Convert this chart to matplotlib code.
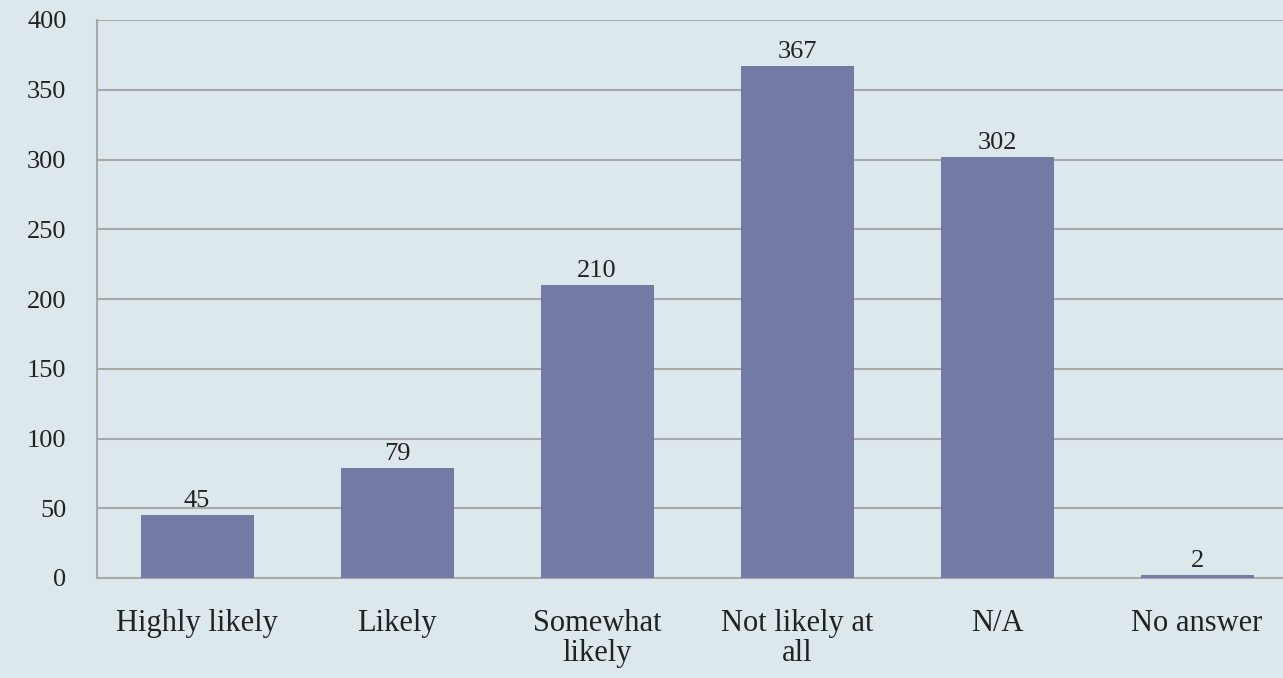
import matplotlib
matplotlib.use('Agg')
import matplotlib.pyplot as plt

# survey answers
categories = ['Highly likely', 'Likely', 'Somewhat\nlikely', 'Not likely at\nall', 'N/A', 'No answer']
counts = [45, 79, 210, 367, 302, 2]
yticks = [0, 50, 100, 150, 200, 250, 300, 350, 400]

plt.rcParams['font.family'] = ['Liberation Serif', 'DejaVu Serif']

bg = '#dde8ed'
bar_color = '#737aa3'
grid_color = '#a8a8a8'

fig = plt.figure(figsize=(12.83, 6.78), dpi=100, facecolor=bg)
ax = fig.add_axes([97 / 1283, 1 - 578 / 678, 1 - 97 / 1283, (578 - 20) / 678])
ax.set_facecolor(bg)

x = range(len(categories))
bars = ax.bar(x, counts, width=0.565, color=bar_color, zorder=3)

for xi, v in zip(x, counts):
    ax.text(xi, v + 2, str(v), ha='center', va='bottom', fontsize=19, color='#222222', zorder=4)

ax.set_ylim(0, 400)
ax.set_xlim(-0.5, 5.43)
ax.set_yticks(yticks)
ax.yaxis.grid(True, color=grid_color, linewidth=1.5, zorder=0)
ax.set_xticks(list(x))
ax.set_xticklabels(categories, fontsize=22, color='#222222', linespacing=1.05)
ax.tick_params(axis='y', labelsize=19, labelcolor='#222222', length=0, pad=22)
ax.tick_params(axis='x', length=0, pad=22)

for side in ['top', 'right']:
    ax.spines[side].set_visible(False)
ax.spines['left'].set_color(grid_color)
ax.spines['left'].set_linewidth(1.5)
ax.spines['bottom'].set_color(grid_color)
ax.spines['bottom'].set_linewidth(1.5)

fig.savefig('out.png', dpi=100, facecolor=bg)
